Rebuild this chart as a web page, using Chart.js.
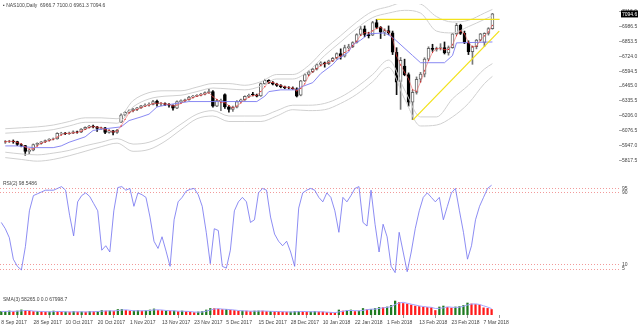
<!DOCTYPE html>
<html>
<head>
<meta charset="utf-8">
<script src="https://cdn.jsdelivr.net/npm/chart.js@4.4.1/dist/chart.umd.min.js"></script>
<style>
  body { margin: 0; background: #fff; }
  #wrap { position: relative; width: 640px; height: 328px; overflow: hidden; }
  canvas { position: absolute; left: 0; }
  .lbl { position: absolute; left: 3px; font: 5px 'Liberation Sans', Arial, sans-serif; color: #444; white-space: nowrap; line-height: 6px; }
</style>
</head>
<body>
<div id="wrap">
  <canvas id="priceChart" width="640" height="176" style="top:0"></canvas>
  <canvas id="rsiChart" width="640" height="114" style="top:176px"></canvas>
  <canvas id="volChart" width="640" height="38" style="top:290px"></canvas>
  <div class="lbl" style="top:2px">▪ NAS100,Daily&nbsp; 6966.7 7100.0 6961.3 7094.6</div>
  <div class="lbl" style="top:180px">RSI(2) 98.5486</div>
  <div class="lbl" style="top:296px">SMA(3) 58265.0 0.0 67998.7</div>
</div>
<script>
// x axis: bar index, labels every 8 bars
const tickIdx = [0, 8, 16, 24, 32, 40, 48, 56, 64, 72, 80, 88, 96, 104, 112, 120];
const tickText = ['8 Sep 2017', '28 Sep 2017', '10 Oct 2017', '20 Oct 2017', '1 Nov 2017', '13 Nov 2017',
  '23 Nov 2017', '5 Dec 2017', '15 Dec 2017', '28 Dec 2017', '10 Jan 2018', '22 Jan 2018',
  '1 Feb 2018', '13 Feb 2018', '23 Feb 2018', '7 Mar 2018'];
const priceTicks = [5817.5, 5947.0, 6076.5, 6206.0, 6335.5, 6465.0, 6594.5, 6724.0, 6853.5, 6986.5, 7116.0];
const rsiLevels = [95, 90, 10, 5];

// daily candles
const opens = [5975,5982,5985,5980,5955,5945,5895,5905,5955,5965, 5978,5990,6002,6005,6052,6054,6050,6055,6065,6062,
  6090,6105,6117,6110,6095,6100,6060,6075,6060,6150, 6211,6235,6250,6262,6275,6292,6300,6306,6335,6310,
  6312,6305,6298,6272,6330,6338,6345,6369,6377,6385, 6395,6408,6418,6290,6338,6390,6283,6262,6280,6330,
  6345,6375,6395,6388,6380,6487,6515,6495,6482,6470, 6458,6450,6448,6442,6385,6511,6566,6590,6613,6653,
  6669,6660,6685,6708,6748,6725,6800,6810,6845,6915, 6965,6915,6910,7020,6978,6935,6950,6930,6760,6505,
  6640,6565,6325,6410,6525,6570,6700,6795,6785,6795, 6800,6755,6800,6920,6995,6925,6845,6765,6810,6866,
  6845,6925,6966.7];
const highs = [5990,5992,5995,5984,5962,5948,5915,5960,5970,5982, 5995,6006,6012,6058,6062,6060,6064,6075,6072,6095,
  6110,6122,6125,6114,6108,6105,6085,6080,6088,6222, 6242,6258,6270,6280,6298,6310,6318,6340,6342,6322,
  6320,6312,6302,6336,6345,6352,6375,6385,6390,6402, 6415,6440,6425,6348,6352,6398,6295,6290,6338,6352,
  6380,6395,6410,6395,6492,6525,6520,6505,6490,6478, 6465,6460,6458,6450,6515,6572,6598,6620,6660,6678,
  6675,6692,6715,6755,6790,6822,6830,6852,6922,6985, 6990,6935,7030,7047,6985,6965,6990,6945,6800,6715,
  6700,6580,6430,6545,6585,6712,6808,6830,6805,6835, 6850,6815,6925,7012,7005,6945,6860,6815,6872,6925,
  6930,6975,7100.0];
const lows = [5965,5972,5966,5945,5935,5862,5875,5900,5945,5958, 5972,5984,5995,6002,6040,6042,6044,6050,6055,6058,
  6085,6098,6100,6070,6088,6050,6055,6040,6052,6145, 6205,6228,6240,6250,6270,6285,6290,6300,6290,6295,
  6295,6280,6255,6268,6320,6330,6342,6362,6372,6380, 6388,6400,6280,6285,6250,6270,6238,6245,6275,6325,
  6340,6368,6380,6370,6375,6480,6488,6475,6462,6450, 6442,6440,6436,6370,6380,6505,6558,6582,6605,6640,
  6630,6652,6678,6700,6700,6718,6790,6800,6840,6905, 6895,6885,6905,6965,6880,6905,6915,6740,6390,6262,
  6555,6290,6172,6395,6500,6545,6690,6768,6770,6780, 6745,6735,6795,6915,6915,6835,6740,6655,6790,6858,
  6810,6910,6961.3];
const closes = [5982,5985,5980,5955,5948,5895,5905,5955,5965,5978, 5990,6002,6005,6052,6054,6050,6055,6065,6062,6090,
  6105,6117,6110,6095,6100,6060,6075,6060,6080,6211, 6235,6250,6262,6275,6292,6300,6306,6330,6310,6312,
  6305,6298,6272,6330,6338,6345,6369,6377,6385,6395, 6408,6418,6290,6338,6340,6283,6262,6280,6330,6345,
  6375,6385,6388,6378,6487,6515,6495,6482,6470,6458, 6450,6448,6442,6378,6511,6566,6590,6613,6653,6669,
  6660,6685,6708,6748,6725,6800,6810,6845,6915,6965, 6915,6905,7020,6978,6935,6950,6930,6760,6500,6690,
  6565,6325,6410,6525,6570,6700,6795,6785,6795,6800, 6755,6800,6920,6995,6925,6845,6765,6810,6866,6920,
  6925,6967,7094.6];

// red moving average (one value per bar)
const fastMa = [5980,5983,5982,5973,5961,5933,5916,5918,5942,5966, 5978,5990,5999,6020,6037,6052,6053,6057,6061,6072,
  6086,6104,6111,6107,6102,6085,6078,6065,6072,6117, 6175,6232,6249,6262,6276,6289,6299,6312,6315,6317,
  6309,6305,6292,6300,6313,6338,6351,6364,6377,6386, 6396,6407,6372,6349,6323,6320,6295,6275,6291,6318,
  6350,6368,6383,6384,6418,6460,6499,6497,6482,6470, 6459,6452,6447,6423,6444,6485,6556,6590,6619,6645,
  6661,6671,6684,6714,6727,6758,6778,6818,6857,6908, 6932,6928,6947,6968,6978,6954,6938,6880,6730,6650,
  6585,6527,6433,6420,6502,6598,6688,6760,6792,6793, 6783,6785,6825,6905,6947,6922,6845,6807,6814,6865,
  6904,6937,6996];

// blue base line, read at its corners
const baseIdx = [0,3,7,12,14,16,20,22,25,29, 31,34,36,38,40,43,46,63,65,66, 69,73,74,77,79,82,83,86,87,89, 91,95,97,102,104,110,112,113,122];
const baseVal = [5943,5943,5928,5928,5943,5975,6022,6078,6093,6109, 6164,6196,6220,6283,6298,6314,6330,6330,6377,6417,
  6432,6432,6456,6495,6574,6653,6692,6763,6826,6866, 6921,6929,6890,6732,6669,6669,6732,6842,6850];

// grey bands, read every 4 bars
const bandIdx = [0,4,8,12,16,20,24,28,32,36, 40,44,48,52,56,60,64,68,72,76, 80,84,88,92,96,100,104,108,112,116, 120,122];
const bandUpOuter = [6093,6101,6109,6125,6156,6188,6188,6180,6338,6408, 6424,6424,6456,6487,6487,6472,6503,6566,6566,6645,
  6787,6905,7023,7118,7158,7197,7181,7071,7024,7039, 7102,7134];
const bandUpInner = [6054,6062,6070,6085,6117,6149,6149,6141,6283,6353, 6377,6385,6417,6448,6440,6432,6464,6527,6527,6598,
  6732,6850,6968,7063,7102,7126,7102,6945,6929,6984, 7047,7079];
const bandLowInner = [5888,5873,5865,5880,5904,5944,5975,6007,5959,5975, 6038,6133,6220,6251,6204,6204,6204,6251,6298,6298,
  6314,6369,6456,6566,6692,6432,6196,6196,6354,6472, 6614,6661];
const bandLowOuter = [5841,5825,5810,5825,5857,5896,5936,5967,5896,5912, 5983,6085,6180,6204,6156,6156,6156,6204,6259,6251,
  6259,6314,6393,6503,6629,6353,6117,6125,6196,6314, 6487,6550];

// yellow drawn lines
const levelX = [93, 123.8], levelY = [7047, 7047];
const trendX = [102.1, 123.7], trendY = [6170, 6945];

// RSI(2)
const rsi = [57,50,40,16,8,4,30,70,87,89, 91,93,93,93,95,97,93,65,42,80, 87,90,86,78,70,26,31,24,70,96,
  97,93,95,75,90,88,85,63,36,28, 41,25,8,60,80,85,92,94,95,88, 75,46,11,50,48,8,6,26,70,80,
  85,80,57,60,90,95,93,63,44,36, 31,36,24,8,73,90,93,95,93,85, 80,90,85,70,46,85,80,87,95,97,
  57,53,93,55,24,55,41,8,1,46, 24,2,24,50,70,85,90,85,80,85, 60,75,90,95,70,46,16,31,60,75,
  85,95,98.55];

// tick volume (thousands) and its SMA(3)
const volume = [37,38,43,36,42,54,47,42,37,38, 36,32,33,42,37,32,33,31,37,32, 33,31,37,36,38,48,42,43,41,58,
  59,48,42,43,48,42,47,53,64,48, 47,48,42,43,37,42,37,32,26,32, 37,53,69,68,63,58,59,53,48,42,
  43,42,37,42,43,42,37,38,37,36, 32,31,32,37,38,37,32,33,37,32, 32,27,26,21,53,42,48,53,37,42,
  69,58,59,69,80,79,85,101,148,133, 122,117,106,95,90,85,80,79,48,85, 95,80,74,85,90,101,127,117,111,106,
  76,70,58.3];
const volumeSma = [37,37.5,39.3,39,40.3,44,47.7,47.7,42,39, 37,35.3,33.7,35.7,37.3,37,34,32,33.7,33.3,
  34,32,33.7,34.7,37,40.7,42.7,44.3,42,47.3, 52.7,55,49.7,44.3,44.3,44.3,45.7,47.3,54.7,55,
  53,47.7,45.7,44.3,40.7,40.7,38.7,37,31.7,30, 31.7,40.7,53,63.3,66.7,63,60,56.7,53.3,47.7,
  44.3,42.3,40.7,40.3,40.7,42.3,40.7,39,37.3,37, 35,33,31.7,33.3,35.7,37.3,35.7,34,34,34,
  33.7,30.3,28.3,24.7,33.3,38.7,47.7,47.7,46,44, 49.3,56.3,62,62,69.3,76,81.3,88.3,111.3,127.3,
  134.3,124,115,106,97,90,85,81.3,69,70.7, 76,86.7,83,79.7,83,92,106,115,118.3,111.3,
  97.7,84,68];

const FONT = { family: "'Liberation Sans', Arial, sans-serif", size: 5 };
const TEXT = '#444';
const pts = (xs, ys) => ys.map((y, i) => ({ x: xs[i], y: y }));
const perBar = ys => ys.map((y, i) => ({ x: i, y: y }));

function fixY(s) { s.width = 21; s.paddingTop = 0; s.paddingBottom = 0; }

function xScale(show) {
  return {
    type: 'linear', min: -0.32, max: 153.7, offset: false, display: show,
    grid: { drawOnChartArea: false, drawTicks: true, tickLength: 3, tickColor: '#999' },
    border: { display: false },
    afterBuildTicks: s => { s.ticks = tickIdx.map(v => ({ value: v })); },
    afterFit: s => { s.height = 13; s.paddingLeft = 0; s.paddingRight = 0; },
    ticks: { autoSkip: false, maxRotation: 0, align: 'start', padding: 2, font: FONT, color: TEXT,
      callback: (v, i) => tickText[i] }
  };
}

const baseOptions = {
  responsive: false, animation: false, devicePixelRatio: 1,
  layout: { padding: 0 },
  plugins: { legend: { display: false }, tooltip: { enabled: false } }
};

const lastPriceBox = {
  id: 'lastPrice',
  afterDraw(chart) {
    const { ctx, chartArea, scales } = chart;
    const last = closes[closes.length - 1];
    const y = scales.y.getPixelForValue(last);
    ctx.save();
    ctx.fillStyle = '#000';
    ctx.fillRect(chartArea.right + 2, y - 3.5, 17, 7);
    ctx.fillStyle = '#fff';
    ctx.font = "5px 'Liberation Sans', Arial";
    ctx.textBaseline = 'middle';
    ctx.fillText(last.toFixed(1), chartArea.right + 3, y + 0.5);
    ctx.restore();
  }
};

const up = closes.map((c, i) => c >= opens[i]);
const bandLine = (xs, ys) => ({ type: 'line', data: pts(xs, ys), borderColor: '#d0d0d0', borderWidth: 1,
  pointRadius: 0, cubicInterpolationMode: 'monotone', order: 3 });

new Chart(document.getElementById('priceChart'), {
  type: 'bar',
  data: {
    datasets: [
      { type: 'line', data: pts(levelX, levelY), borderColor: '#f2e21c', borderWidth: 1.3, pointRadius: 0, order: 0 },
      { type: 'line', data: pts(trendX, trendY), borderColor: '#f2e21c', borderWidth: 1.3, pointRadius: 0, order: 0 },
      { type: 'line', data: perBar(fastMa), borderColor: '#ee6a6a', borderWidth: 0.6, pointRadius: 0.6,
        pointBackgroundColor: '#d81010', pointBorderWidth: 0, order: 1 },
      { type: 'line', data: pts(baseIdx, baseVal), borderColor: '#7c7cf2', borderWidth: 0.9, pointRadius: 0, order: 2 },
      bandLine(bandIdx, bandUpOuter),
      bandLine(bandIdx, bandUpInner),
      bandLine(bandIdx, bandLowInner),
      bandLine(bandIdx, bandLowOuter),
      { data: closes.map((c, i) => ({ x: i, y: [opens[i], c] })),
        backgroundColor: up.map(u => u ? '#fff' : '#000'),
        borderColor: up.map(u => u ? '#666' : '#000'),
        borderWidth: 1, borderSkipped: false, barThickness: 3, grouped: false, order: 4 },
      { data: highs.map((h, i) => ({ x: i, y: [lows[i], h] })),
        backgroundColor: up.map(u => u ? '#777' : '#111'),
        barThickness: 1, grouped: false, order: 5 }
    ]
  },
  options: {
    ...baseOptions,
    scales: {
      x: xScale(false),
      y: {
        position: 'right', min: 5793.9, max: 7181.3,
        afterBuildTicks: s => { s.ticks = priceTicks.map(v => ({ value: v })); },
        afterFit: fixY,
        grid: { drawOnChartArea: false, drawTicks: true, tickLength: 3, tickColor: '#aaa' },
        border: { display: false },
        ticks: { font: FONT, color: TEXT, padding: 0, callback: v => v.toFixed(1) }
      }
    }
  },
  plugins: [lastPriceBox]
});

new Chart(document.getElementById('rsiChart'), {
  type: 'line',
  data: {
    datasets: [{ data: perBar(rsi), borderColor: '#7070f0', borderWidth: 0.8, pointRadius: 0 }]
  },
  options: {
    ...baseOptions,
    scales: {
      x: xScale(false),
      y: {
        position: 'right', min: -3.9, max: 108.85,
        afterBuildTicks: s => { s.ticks = rsiLevels.map(v => ({ value: v })); },
        afterFit: fixY,
        grid: { color: '#f29a9a', lineWidth: 1, drawTicks: false },
        border: { display: false, dash: [1, 2] },
        ticks: { font: FONT, color: TEXT, padding: 3 }
      }
    }
  }
});

new Chart(document.getElementById('volChart'), {
  type: 'bar',
  data: {
    datasets: [
      { type: 'line', data: perBar(volumeSma), borderColor: '#a4a4ff', borderWidth: 1, pointRadius: 0, order: 0 },
      { data: perBar(volume),
        backgroundColor: volume.map((v, i) => (i > 0 && v <= volume[i - 1]) ? '#ff1a1a' : '#1f7a1f'),
        barThickness: 1.6, grouped: false, order: 1 }
    ]
  },
  options: {
    ...baseOptions,
    scales: {
      x: xScale(true),
      y: {
        position: 'right', min: 0, max: 265,
        afterFit: fixY,
        grid: { display: false }, border: { display: false }, ticks: { display: false }
      }
    }
  }
});
</script>
</body>
</html>
